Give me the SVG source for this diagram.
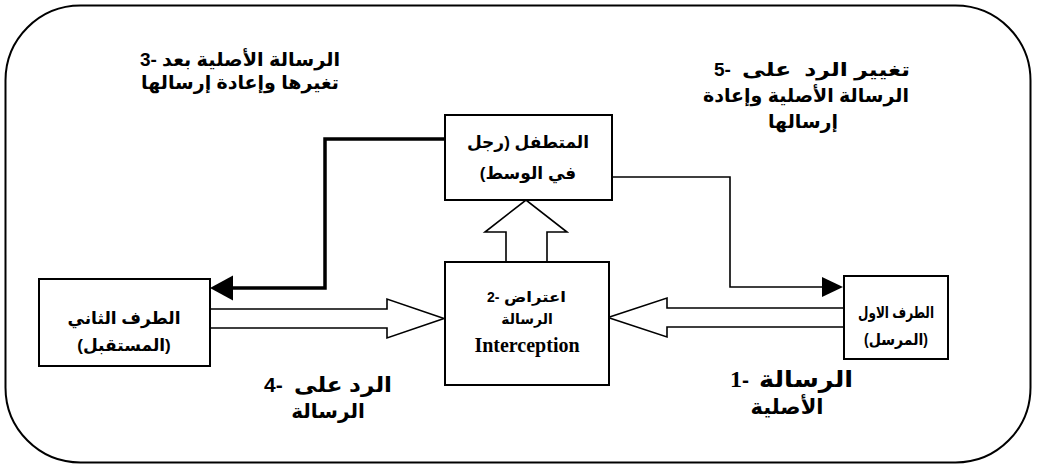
<svg xmlns="http://www.w3.org/2000/svg" width="1040" height="471" viewBox="0 0 1040 471">
  <style>
    .box { fill: #ffffff; stroke: #000000; stroke-width: 2; }
    .hollow { fill: #ffffff; stroke: #000000; stroke-width: 1.6; stroke-linejoin: miter; }
    .t { font-family: "Liberation Sans", "DejaVu Sans", sans-serif; font-weight: bold; fill: #000000; text-anchor: middle; }
    .num { font-family: "Liberation Sans", sans-serif; font-weight: bold; fill: #000000; text-anchor: start; }
    .lbl { font-size: 19px; }
    .nd { font-size: 17px; }
    .sm { font-size: 14px; }
    .en { font-family: "Liberation Serif", serif; font-weight: bold; font-size: 20px; text-anchor: middle; fill: #000000; }
    .rtl { direction: rtl; unicode-bidi: embed; }
  </style>
  <defs>
    <marker id="headThick" markerUnits="userSpaceOnUse" markerWidth="24" markerHeight="26" refX="11" refY="12.5" orient="auto">
      <path d="M0,0 L23,12.5 L0,25 Z" fill="#000000"/>
    </marker>
    <marker id="headThin" markerUnits="userSpaceOnUse" markerWidth="22" markerHeight="22" refX="9" refY="10" orient="auto">
      <path d="M0,0 L21,10 L0,20 Z" fill="#000000"/>
    </marker>
  </defs>

  <rect id="frame" x="5.5" y="5.5" width="1025" height="457" rx="75" ry="75" fill="none" stroke="#000000" stroke-width="2"/>

  <g id="connectors">
    <path d="M445,139 H325 V288 H222" fill="none" stroke="#000000" stroke-width="3.5" marker-end="url(#headThick)"/>
    <path d="M612,177 H730 V287 H831" fill="none" stroke="#000000" stroke-width="1.6" marker-end="url(#headThin)"/>
    <polygon class="hollow" points="210,309 387,309 387,299 444,318.5 387,338 387,328 210,328"/>
    <polygon class="hollow" points="844,308 667,308 667,298 608,317.5 667,337 667,327 844,327"/>
    <polygon class="hollow" points="506,262 506,232 485,232 526,200 567,232 547,232 547,262"/>
  </g>

  <g id="node-intruder">
    <rect class="box" x="445" y="115" width="167" height="85"/>
    <text class="t nd rtl" x="528" y="148">المتطفل (رجل</text>
    <text class="t nd rtl" x="528" y="179">في الوسط)</text>
  </g>

  <g id="node-interception">
    <rect class="box" x="445" y="262" width="164" height="123"/>
    <text class="num sm" x="487" y="302">2-</text>
    <text class="t sm" x="535" y="302" textLength="62" lengthAdjust="spacingAndGlyphs">اعتراض</text>
    <text class="t sm rtl" x="527" y="324">الرسالة</text>
    <text class="en" x="527" y="352">Interception</text>
  </g>

  <g id="node-receiver">
    <rect class="box" x="39" y="279" width="171" height="87"/>
    <text class="t nd rtl" x="124" y="324">الطرف الثاني</text>
    <text class="t nd rtl" x="124" y="351">(المستقبل)</text>
  </g>

  <g id="node-sender">
    <rect class="box" x="844" y="276" width="104" height="83"/>
    <text class="t rtl" x="896" y="318" font-size="16" textLength="76" lengthAdjust="spacingAndGlyphs">الطرف الاول</text>
    <text class="t rtl" x="896" y="345" font-size="16" textLength="64" lengthAdjust="spacingAndGlyphs">(المرسل)</text>
  </g>

  <g id="label-3">
    <text class="num lbl" x="140" y="66">3-</text>
    <text class="t lbl" x="251" y="66" textLength="178" lengthAdjust="spacingAndGlyphs">الرسالة الأصلية بعد</text>
    <text class="t lbl rtl" x="240" y="89">تغيرها وإعادة إرسالها</text>
  </g>

  <g id="label-5">
    <text class="num lbl" x="714" y="76">5-</text>
    <text class="t lbl" x="826" y="76" style="white-space:pre" textLength="168" lengthAdjust="spacingAndGlyphs">تغيير الرد  على</text>
    <text class="t lbl rtl" x="806" y="102">الرسالة الأصلية وإعادة</text>
    <text class="t lbl rtl" x="803" y="128">إرسالها</text>
  </g>

  <g id="label-4">
    <text class="num" x="264" y="392" font-size="21">4-</text>
    <text class="t" x="343" y="392" font-size="21" textLength="98" lengthAdjust="spacingAndGlyphs">الرد على</text>
    <text class="t rtl" x="328" y="418" font-size="20">الرسالة</text>
  </g>

  <g id="label-1">
    <text class="num" x="730" y="387" font-size="21"><tspan style="font-family:'Liberation Serif',serif;font-size:24px">1</tspan>-</text>
    <text class="t" x="806" y="387" font-size="23" textLength="94" lengthAdjust="spacingAndGlyphs">الرسالة</text>
    <text class="t rtl" x="787" y="414" font-size="21">الأصلية</text>
  </g>
</svg>
